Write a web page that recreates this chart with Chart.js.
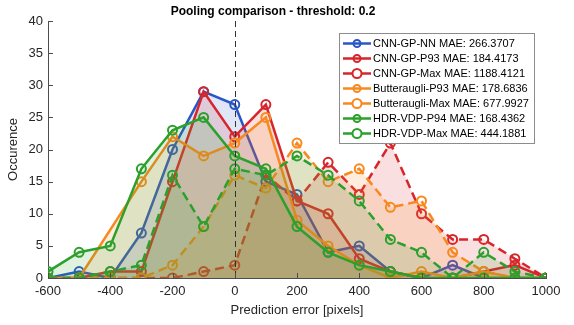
<!DOCTYPE html>
<html lang="en">
<head>
    <meta charset="UTF-8">
    <title>Pooling comparison</title>
    <script src="https://cdn.jsdelivr.net/npm/chart.js@4.4.1/dist/chart.umd.min.js"></script>
    <style>
        html, body { margin: 0; padding: 0; background: #fff; }
        .chart-box { width: 574px; height: 325px; }
    </style>
</head>
<body>
    <div class="chart-box">
        <canvas id="poolingChart"></canvas>
    </div>

    <script>
        // histogram bins (prediction error, pixels)
        const errorBins = [-600, -500, -400, -300, -200, -100, 0, 100, 200, 300, 400, 500, 600, 700, 800, 900, 1000];

        // counts per bin
        const cnnGpNN  = [0, 1, 0, 7, 20, 29, 27, 15, 13, 4, 5, 1, 0, 2, 0, 0, 0];
        const cnnGpP93 = [0, 0, 1, 1, 15, 29, 22, 27, 12, 10, 3, 1, 0, 0, 1, 2, 0];
        const cnnGpMax = [0, 0, 0, 0, 0, 1, 2, 16, 12, 18, 13, 21, 10, 6, 6, 3, 0];
        const buttP93  = [0, 0, null, 15, 22, 19, 21, 25, 9, 5, 2, 0, 1, 0, 1, 0, 0];
        const buttMax  = [0, 0, 0, 0, 2, 8, 16, 14, 21, 15, 17, 11, 12, 4, 1, 0, 0];
        const hdrP94   = [1, 4, 5, 17, 23, 25, 19, 17, 8, 4, 2, 1, 0, 0, 0, 0, 0];
        const hdrMax   = [0, 0, 1, 2, 16, 8, 17, 16, 19, 16, 12, 6, 4, 0, 4, 1, 0];

        const seriesLabels = [
            'CNN-GP-NN MAE: 266.3707',
            'CNN-GP-P93 MAE: 184.4173',
            'CNN-GP-Max MAE: 1188.4121',
            'Butteraugli-P93 MAE: 178.6836',
            'Butteraugli-Max MAE: 677.9927',
            'HDR-VDP-P94 MAE: 168.4362',
            'HDR-VDP-Max MAE: 444.1881'
        ];

        // tick labels
        const xTickValues = [-600, -400, -200, 0, 200, 400, 600, 800, 1000];
        const yTickValues = [0, 5, 10, 15, 20, 25, 30, 35, 40];

        const BLUE = [42, 86, 198];
        const RED = [215, 38, 43];
        const ORANGE = [248, 137, 30];
        const GREEN = [44, 160, 44];

        const rgba = (c, a) => `rgba(${c[0]}, ${c[1]}, ${c[2]}, ${a})`;
        const toPoints = vals => errorBins.map((x, i) => ({ x: x, y: vals[i] }));

        const makeSet = (idx, vals, color, dashed) => ({
            label: seriesLabels[idx],
            data: toPoints(vals),
            borderColor: rgba(color, 1),
            backgroundColor: rgba(color, 0.15),
            borderWidth: 2.5,
            borderDash: dashed ? [9, 5] : [],
            fill: 'origin',
            spanGaps: true,
            tension: 0,
            pointRadius: 4.5,
            pointBorderWidth: 2,
            pointBorderColor: rgba(color, 1),
            pointBackgroundColor: 'rgba(0, 0, 0, 0)',
            order: 10 - idx,
            dashed: dashed
        });

        const datasets = [
            makeSet(0, cnnGpNN, BLUE, false),
            makeSet(1, cnnGpP93, RED, false),
            makeSet(2, cnnGpMax, RED, true),
            makeSet(3, buttP93, ORANGE, false),
            makeSet(4, buttMax, ORANGE, true),
            makeSet(5, hdrP94, GREEN, false),
            makeSet(6, hdrMax, GREEN, true)
        ];

        // inward tick marks, zero line and the boxed legend
        const extrasPlugin = {
            id: 'extras',
            afterDatasetsDraw(chart) {
                const { ctx, chartArea } = chart;
                const xs = chart.scales.x;
                const ys = chart.scales.y;

                ctx.save();
                // dashed line at zero error
                ctx.strokeStyle = '#333';
                ctx.lineWidth = 1;
                ctx.setLineDash([6, 4]);
                const x0 = Math.round(xs.getPixelForValue(0)) + 0.5;
                ctx.beginPath();
                ctx.moveTo(x0, chartArea.top);
                ctx.lineTo(x0, chartArea.bottom);
                ctx.stroke();
                ctx.setLineDash([]);

                // ticks pointing into the plot
                ctx.strokeStyle = '#4d4d4d';
                xTickValues.forEach(v => {
                    const px = Math.round(xs.getPixelForValue(v)) + 0.5;
                    ctx.beginPath();
                    ctx.moveTo(px, chartArea.bottom);
                    ctx.lineTo(px, chartArea.bottom - 5);
                    ctx.stroke();
                });
                yTickValues.forEach(v => {
                    const py = Math.round(ys.getPixelForValue(v)) + 0.5;
                    ctx.beginPath();
                    ctx.moveTo(chartArea.left, py);
                    ctx.lineTo(chartArea.left + 5, py);
                    ctx.stroke();
                });
                ctx.restore();
            },
            afterDraw(chart) {
                const { ctx, chartArea } = chart;
                const boxW = 195, boxH = 110;
                const left = chartArea.right - 12 - boxW;
                const top = chartArea.top + 12;

                ctx.save();
                ctx.fillStyle = '#fff';
                ctx.fillRect(left, top, boxW, boxH);
                ctx.strokeStyle = '#8c8c8c';
                ctx.lineWidth = 1;
                ctx.strokeRect(Math.round(left) + 0.5, Math.round(top) + 0.5, boxW, boxH);

                ctx.font = '11px "Liberation Sans", Arial, sans-serif';
                ctx.textBaseline = 'middle';
                chart.data.datasets.forEach((ds, i) => {
                    const cy = top + 10.5 + i * 15;
                    ctx.strokeStyle = ds.borderColor;
                    ctx.lineWidth = 2.5;
                    ctx.beginPath();
                    ctx.moveTo(left + 4, cy);
                    ctx.lineTo(left + 32, cy);
                    ctx.stroke();
                    ctx.lineWidth = 2;
                    ctx.beginPath();
                    ctx.arc(left + 18, cy, ds.dashed ? 4.5 : 3.5, 0, Math.PI * 2);
                    if (ds.dashed) {
                        ctx.fillStyle = '#fff';
                        ctx.fill();
                    }
                    ctx.stroke();
                    ctx.fillStyle = '#000';
                    ctx.fillText(ds.label, left + 34, cy + 0.5);
                });
                ctx.restore();
            }
        };

        const tickFont = { family: '"Liberation Sans", Arial, sans-serif', size: 13 };

        new Chart(document.getElementById('poolingChart').getContext('2d'), {
            type: 'line',
            data: { datasets: datasets },
            options: {
                responsive: true,
                maintainAspectRatio: false,
                animation: false,
                layout: { padding: { left: 0, right: 28, top: 0, bottom: 0 } },
                plugins: {
                    legend: { display: false },
                    tooltip: { enabled: false },
                    title: {
                        display: true,
                        text: 'Pooling comparison - threshold: 0.2',
                        color: '#000',
                        font: { family: '"Liberation Sans", Arial, sans-serif', size: 12, weight: 'bold' },
                        padding: { top: 4, bottom: 2.6 }
                    }
                },
                scales: {
                    x: {
                        type: 'linear',
                        min: -600,
                        max: 1000,
                        afterBuildTicks: s => { s.ticks = xTickValues.map(v => ({ value: v })); },
                        afterFit: s => { s.height = 47; },
                        grid: { display: false, drawTicks: false },
                        border: { display: true, color: '#4d4d4d', width: 1 },
                        ticks: { color: '#262626', font: tickFont, padding: 6, maxRotation: 0, callback: v => String(v) },
                        title: {
                            display: true,
                            text: 'Prediction error [pixels]',
                            color: '#262626',
                            font: tickFont,
                            padding: { top: 0, bottom: 7 }
                        }
                    },
                    y: {
                        min: 0,
                        max: 40,
                        afterBuildTicks: s => { s.ticks = yTickValues.map(v => ({ value: v })); },
                        afterFit: s => { s.width = 48; },
                        grid: { display: false, drawTicks: false },
                        border: { display: true, color: '#4d4d4d', width: 1 },
                        ticks: { color: '#262626', font: tickFont, padding: 5, callback: v => String(v) },
                        title: {
                            display: true,
                            text: 'Occurence',
                            color: '#262626',
                            font: tickFont,
                            padding: { top: 6, bottom: 0 }
                        }
                    }
                }
            },
            plugins: [extrasPlugin]
        });
    </script>
</body>
</html>
